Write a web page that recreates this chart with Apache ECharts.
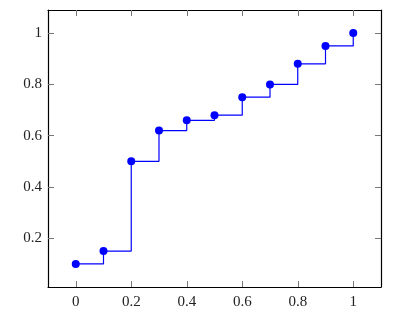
<!DOCTYPE html>
<html><head><meta charset="utf-8">
<script src="https://cdn.jsdelivr.net/npm/echarts@6/dist/echarts.min.js"></script>
<style>html,body{margin:0;padding:0;background:#fff}#c{width:410px;height:321px}</style>
</head><body><div id="c"></div>
<script>
const xValues = [0, 0.1, 0.2, 0.3, 0.4, 0.5, 0.6, 0.7, 0.8, 0.9, 1.0];
const yValues = [0.1, 0.15, 0.5, 0.62, 0.66, 0.68, 0.75, 0.8, 0.88, 0.95, 1.0];
const xTicks = [0, 0.2, 0.4, 0.6, 0.8, 1];
const yTicks = [0.2, 0.4, 0.6, 0.8, 1];
const xTickLabels = ['0', '0.2', '0.4', '0.6', '0.8', '1'];
const yTickLabels = ['0.2', '0.4', '0.6', '0.8', '1'];

const font = "'Liberation Serif', 'DejaVu Serif', serif";
const fmtX = v => { const i = xTicks.findIndex(t => Math.abs(t - v) < 1e-9); return i >= 0 ? xTickLabels[i] : ''; };
const fmtY = v => { const i = yTicks.findIndex(t => Math.abs(t - v) < 1e-9); return i >= 0 ? yTickLabels[i] : ''; };

function xAxis(pos, showLabel) {
  return {
    type: 'value', position: pos, min: -0.1, max: 1.1,
    axisLine: { show: true, onZero: false, lineStyle: { color: '#000', width: 1.2 } },
    axisTick: { show: true, inside: true, length: 6, customValues: xTicks, lineStyle: { color: '#777', width: 1 } },
    axisLabel: { show: showLabel, customValues: xTicks, formatter: fmtX, color: '#222', fontFamily: font, fontSize: 15, margin: 8 },
    splitLine: { show: false }
  };
}
function yAxis(pos, showLabel) {
  return {
    type: 'value', position: pos, min: 0.01, max: 1.09,
    axisLine: { show: true, onZero: false, lineStyle: { color: '#000', width: 1.2 } },
    axisTick: { show: true, inside: true, length: 6, customValues: yTicks, lineStyle: { color: '#777', width: 1 } },
    axisLabel: { show: showLabel, customValues: yTicks, formatter: fmtY, color: '#222', fontFamily: font, fontSize: 15, margin: 6 },
    splitLine: { show: false }
  };
}

const chart = echarts.init(document.getElementById('c'), null, { renderer: 'canvas' });
chart.setOption({
  animation: false,
  backgroundColor: '#fff',
  grid: { left: 48, top: 10, right: 29, bottom: 34, containLabel: false },
  xAxis: [xAxis('bottom', true), xAxis('top', false)],
  yAxis: [yAxis('left', true), yAxis('right', false)],
  series: [{
    type: 'line', step: 'end',
    data: xValues.map((x, i) => [x, yValues[i]]),
    symbol: 'circle', symbolSize: 8, showAllSymbol: true,
    itemStyle: { color: '#0000ff' },
    lineStyle: { color: '#0000ff', width: 1.2 }
  }]
});
</script></body></html>
